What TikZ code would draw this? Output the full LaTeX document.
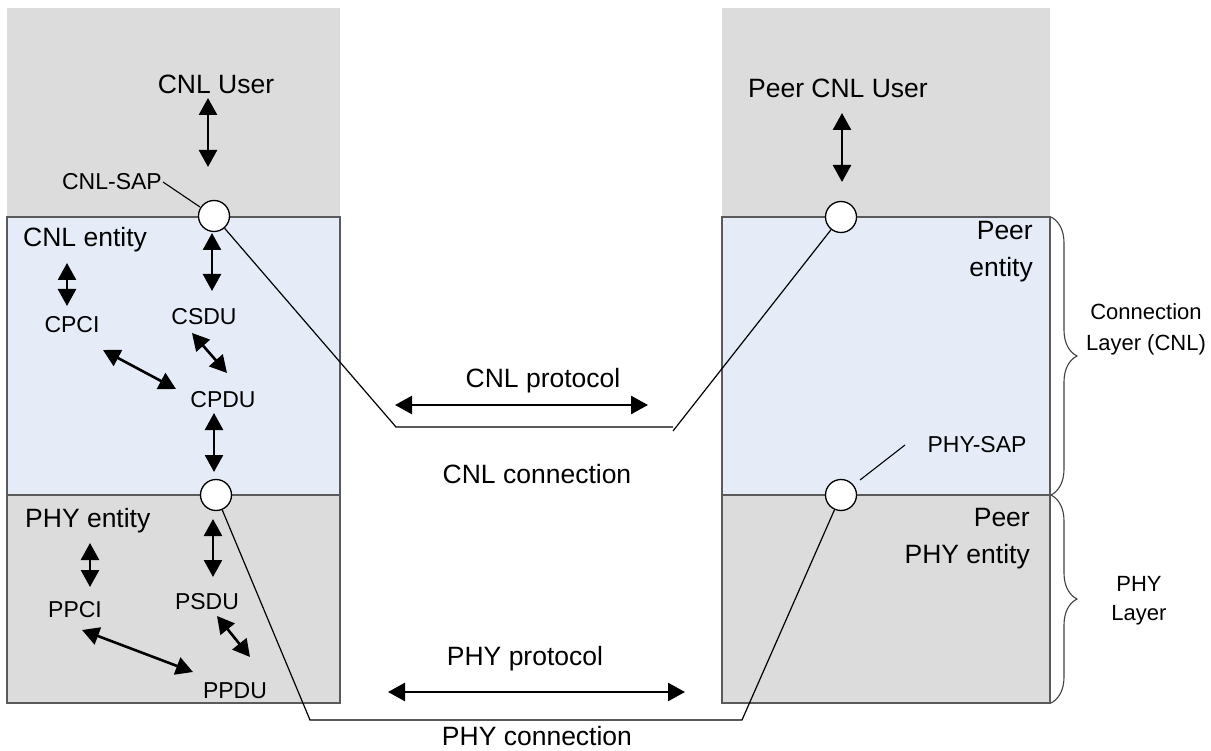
\documentclass[tikz,border=0pt]{standalone}
\usepackage{fontspec}
\setmainfont{Liberation Sans}
\usetikzlibrary{arrows.meta,decorations.pathreplacing}
\definecolor{boxgray}{HTML}{DCDCDC}
\definecolor{boxblue}{HTML}{E6ECF7}
\definecolor{edgegray}{HTML}{5A5A5A}
\begin{document}
\begin{tikzpicture}[x=1pt,y=-1pt,
  lbig/.style={font=\fontsize{26.5}{37}\selectfont, inner sep=0pt},
  lsmall/.style={font=\fontsize{23}{29}\selectfont, inner sep=0pt},
  sapcircle/.style={circle, draw=black, fill=white, line width=1.3pt, minimum size=31pt, inner sep=0pt},
  layerbox/.style={draw=edgegray, line width=1.2pt},
  dblarrow/.style={{Triangle[length=17pt,width=18pt]}-{Triangle[length=17pt,width=18pt]}, line width=2.6pt},
  connline/.style={line width=1.2pt},
  leader/.style={line width=1.1pt},
  layerbrace/.style={decorate, decoration={brace, amplitude=26pt, aspect=0.5}, draw=black!75, line width=1.1pt}
]
\useasboundingbox (0,0) rectangle (1211,751);
% boxes
\fill[boxgray] (7,8) rectangle (340,217);
\fill[boxgray] (722,8) rectangle (1050,217);
\draw[layerbox, fill=boxblue] (7,217) rectangle (340,495);
\draw[layerbox, fill=boxgray] (7,495) rectangle (340,703);
\draw[layerbox, fill=boxblue] (722,217) rectangle (1050,495);
\draw[layerbox, fill=boxgray] (722,495) rectangle (1050,703);

% SAP circles
\node[sapcircle] (cnlsapL) at (214,216) {};
\node[sapcircle] (physapL) at (216,495) {};
\node[sapcircle] (cnlsapR) at (841,217) {};
\node[sapcircle] (physapR) at (841,495) {};

% connection lines
\coordinate (cc1) at (396,427);
\coordinate (cc2) at (673,427);
\coordinate (cc3) at (673,431);
\draw[connline] (cnlsapL) -- (cc1) -- (cc2);
\draw[connline] (cc3) -- (cnlsapR);
\coordinate (pc1) at (310,720);
\coordinate (pc2) at (742,720);
\draw[connline] (physapL) -- (pc1) -- (pc2) -- (physapR);

% labels
\node[lbig, anchor=base] (cnluser) at (216,94) {CNL User};
\node[lbig, anchor=base] (peeruser) at (838,98) {Peer CNL User};
\node[lsmall, anchor=base east] (cnlsaplbl) at (162,190) {CNL-SAP};
\node[lbig, anchor=base west] (cnlent) at (23,247) {CNL entity};
\node[lsmall, anchor=base] (cpci) at (72,333) {CPCI};
\node[lsmall, anchor=base] (csdu) at (204,325) {CSDU};
\node[lsmall, anchor=base] (cpdu) at (223,407) {CPDU};
\node[lbig, anchor=base west] (phyent) at (25,527) {PHY entity};
\node[lsmall, anchor=base] (ppci) at (75,617) {PPCI};
\node[lsmall, anchor=base] (psdu) at (207,609) {PSDU};
\node[lsmall, anchor=base] (ppdu) at (235,698) {PPDU};
\node[lbig, anchor=base] (cnlprot) at (543,388) {CNL protocol};
\node[lbig, anchor=base] (cnlconn) at (537,483) {CNL connection};
\node[lbig, anchor=base] (phyprot) at (525,665) {PHY protocol};
\node[lbig, anchor=base] (phyconn) at (537,745) {PHY connection};
\node[lbig, anchor=east, align=right] (peerent) at (1033,252) {Peer\\entity};
\node[lsmall, anchor=base] (physaplbl) at (977,453) {PHY-SAP};
\node[lbig, anchor=east, align=right] (peerphy) at (1030,539) {Peer\\PHY entity};
\node[lsmall, align=center, font=\fontsize{22}{31}\selectfont] (cnllayer) at (1146,329) {Connection\\Layer (CNL)};
\node[lsmall, align=center, font=\fontsize{22}{29}\selectfont] (phylayer) at (1139,601) {PHY\\Layer};

% leader lines
\coordinate (cl1) at (163,182);
\coordinate (cl2) at (200,207);
\draw[leader] (cl1) -- (cl2);
\coordinate (pl1) at (905,445);
\coordinate (pl2) at (860,480);
\draw[leader] (pl1) -- (pl2);

% arrows
\coordinate (a1s) at (208,98);  \coordinate (a1e) at (208,167);
\coordinate (a2s) at (212,233); \coordinate (a2e) at (212,291);
\coordinate (a3s) at (67,263);  \coordinate (a3e) at (67,306);
\coordinate (a4s) at (192,333); \coordinate (a4e) at (227,373);
\coordinate (a5s) at (103,350); \coordinate (a5e) at (176,389);
\coordinate (a6s) at (214,413); \coordinate (a6e) at (214,472);
\coordinate (a7s) at (90,543);  \coordinate (a7e) at (90,587);
\coordinate (a8s) at (213,519); \coordinate (a8e) at (213,577);
\coordinate (a9s) at (217,616); \coordinate (a9e) at (250,657);
\coordinate (a10s) at (82,630); \coordinate (a10e) at (193,672);
\coordinate (a11s) at (842,113); \coordinate (a11e) at (842,182);
\coordinate (a12s) at (395,405); \coordinate (a12e) at (648,405);
\coordinate (a13s) at (388,692); \coordinate (a13e) at (685,692);
\foreach \i in {1,...,13} {\draw[dblarrow] (a\i s) -- (a\i e);}

% braces
\coordinate (b1t) at (1051,217); \coordinate (b1b) at (1051,495);
\coordinate (b2t) at (1051,495); \coordinate (b2b) at (1051,703);
\draw[layerbrace] (b1t) -- (b1b);
\draw[layerbrace] (b2t) -- (b2b);
\end{tikzpicture}
\end{document}
